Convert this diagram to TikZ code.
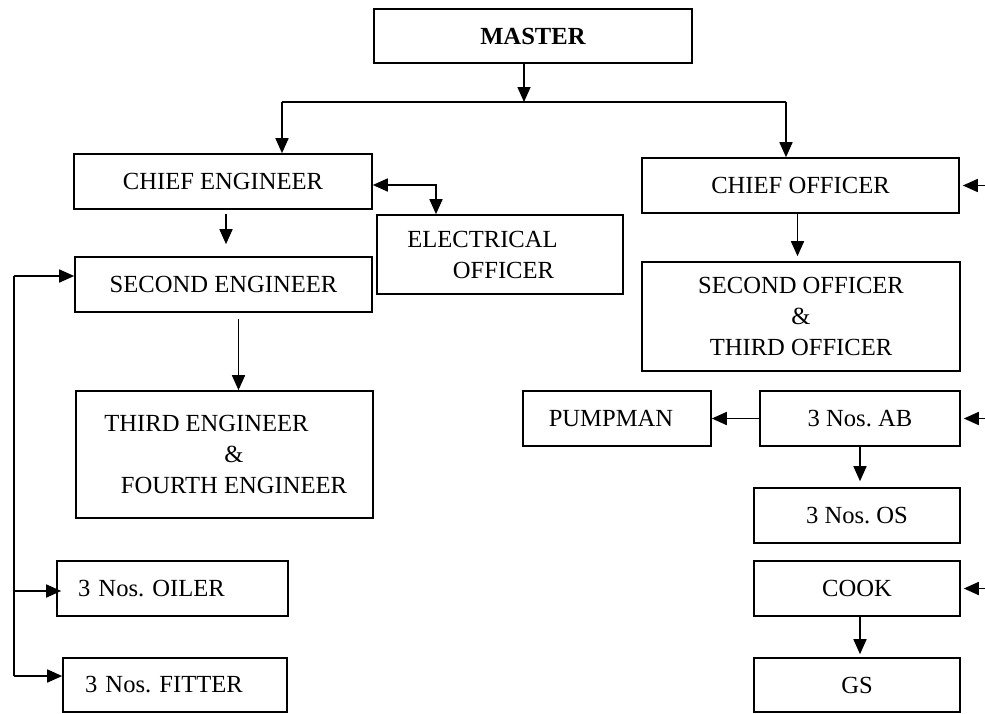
\documentclass[tikz,border=0pt]{standalone}
\usepackage{fontspec}
\setmainfont{Liberation Serif}
\usetikzlibrary{arrows.meta,positioning,calc}
\frenchspacing

\begin{document}
\begin{tikzpicture}[x=0.5pt,y=-0.5pt,>={Triangle[length=7.5pt,width=6.5pt]},
  every node/.style={font=\fontsize{12.3}{15.5}\selectfont}]
\tikzstyle{box}=[draw, line width=0.8pt, inner sep=0pt, align=center]
\tikzstyle{edge}=[->, line width=0.8pt]
\tikzstyle{plain}=[line width=0.8pt]
\useasboundingbox (0,0) rectangle (985,713);
% top
\node[box, minimum width=159pt, minimum height=27pt] (master) at (533,36) {\textbf{MASTER}};
% engine side
\node[box, minimum width=149pt, minimum height=27.5pt] (chiefeng) at (223,181.5) {CHIEF ENGINEER};
\node[box, minimum width=123pt, minimum height=39.5pt] (elec) at (500,254.5) {ELECTRICAL\hspace*{17.5pt}\\\hspace*{3.5pt}OFFICER};
\node[box, minimum width=148.5pt, minimum height=27.5pt] (secondeng) at (223.5,284.5) {SECOND ENGINEER};
\node[box, minimum width=148.5pt, minimum height=63.5pt] (thirdeng) at (224.5,454.5) {THIRD ENGINEER\hspace*{18pt}\\\hspace*{9.5pt}\&\\\hspace*{9.5pt}FOURTH ENGINEER};
\node[box, minimum height=27.5pt, inner xsep=10.5pt, text width=94.5pt, align=left] (oiler) at (172.5,588.5) {3 Nos. OILER};
\node[box, minimum height=27pt, inner xsep=11pt, text width=90pt, align=left] (fitter) at (175,685) {3 Nos. FITTER};
% deck side
\node[box, minimum width=158.5pt, minimum height=27.5pt] (chiefoff) at (800.5,185.5) {CHIEF OFFICER};
\node[box, minimum width=159pt, minimum height=54.5pt] (secondoff) at (801,316.5) {SECOND OFFICER\\\&\\THIRD OFFICER};
\node[box, minimum width=94pt, minimum height=27.5pt] (pumpman) at (617,418.5) {PUMPMAN\hspace*{6pt}};
\node[box, minimum width=100pt, minimum height=27.5pt] (ab) at (860,418.5) {3 Nos. AB};
\node[box, minimum width=103pt, minimum height=27.5pt] (os) at (857,515.5) {3 Nos. OS};
\node[box, minimum width=103pt, minimum height=27.5pt] (cook) at (857,588.5) {COOK};
\node[box, minimum width=103pt, minimum height=27pt] (gs) at (857,685) {GS};
% bus under master
\coordinate (busL) at (282,102);
\coordinate (busM) at (524,102);
\coordinate (busR) at (786,102);
\draw[edge] (master.south -| busM) -- (busM);
\draw[plain] (busL) -- (busR);
\draw[edge] (busL) -- (busL |- chiefeng.north);
\draw[edge] (busR) -- (busR |- chiefoff.north);
% engine links
\coordinate (elecbend) at (436,185);
\draw[line width=0.8pt, <->] (chiefeng.east |- elecbend) -- (elecbend) -- (elecbend |- elec.north);
\draw[edge, shorten <=2pt, shorten >=6pt] ([xshift=1.5pt]chiefeng.south) -- ([xshift=1.5pt]chiefeng.south |- secondeng.north);
\draw[edge, shorten <=3pt] ([xshift=7pt]thirdeng.north |- secondeng.south) -- ([xshift=7pt]thirdeng.north);
\coordinate (trunk) at (14,276);
\coordinate (trunkoil) at (14,591);
\coordinate (trunkbot) at (14,676);
\draw[plain] (trunkbot) -- (trunk);
\draw[edge] (trunk) -- (trunk -| secondeng.west);
\draw[edge, shorten >=-2.5pt] (trunkoil) -- (trunkoil -| oiler.west);
\draw[edge] (trunkbot) -- (trunkbot -| fitter.west);
% deck links
\draw[edge, shorten >=2.5pt] ([xshift=-1.5pt]chiefoff.south) -- ([xshift=-1.5pt]chiefoff.south |- secondoff.north);
\draw[edge] (ab.west) -- (pumpman.east);
\draw[edge, shorten >=3pt] (ab.south) -- (ab.south |- os.north);
\draw[edge, shorten >=1.5pt] (cook.south -| ab.south) -- (ab.south |- gs.north);
% incoming from the right
\coordinate (inCO) at (985,185.5);
\coordinate (inAB) at (985,418.5);
\coordinate (inCK) at (985,588.5);
\draw[edge, shorten >=1.5pt] (inCO) -- (chiefoff.east);
\draw[edge, shorten >=1.5pt] (inAB) -- (ab.east);
\draw[edge, shorten >=1.5pt] (inCK) -- (cook.east);
\end{tikzpicture}
\end{document}
